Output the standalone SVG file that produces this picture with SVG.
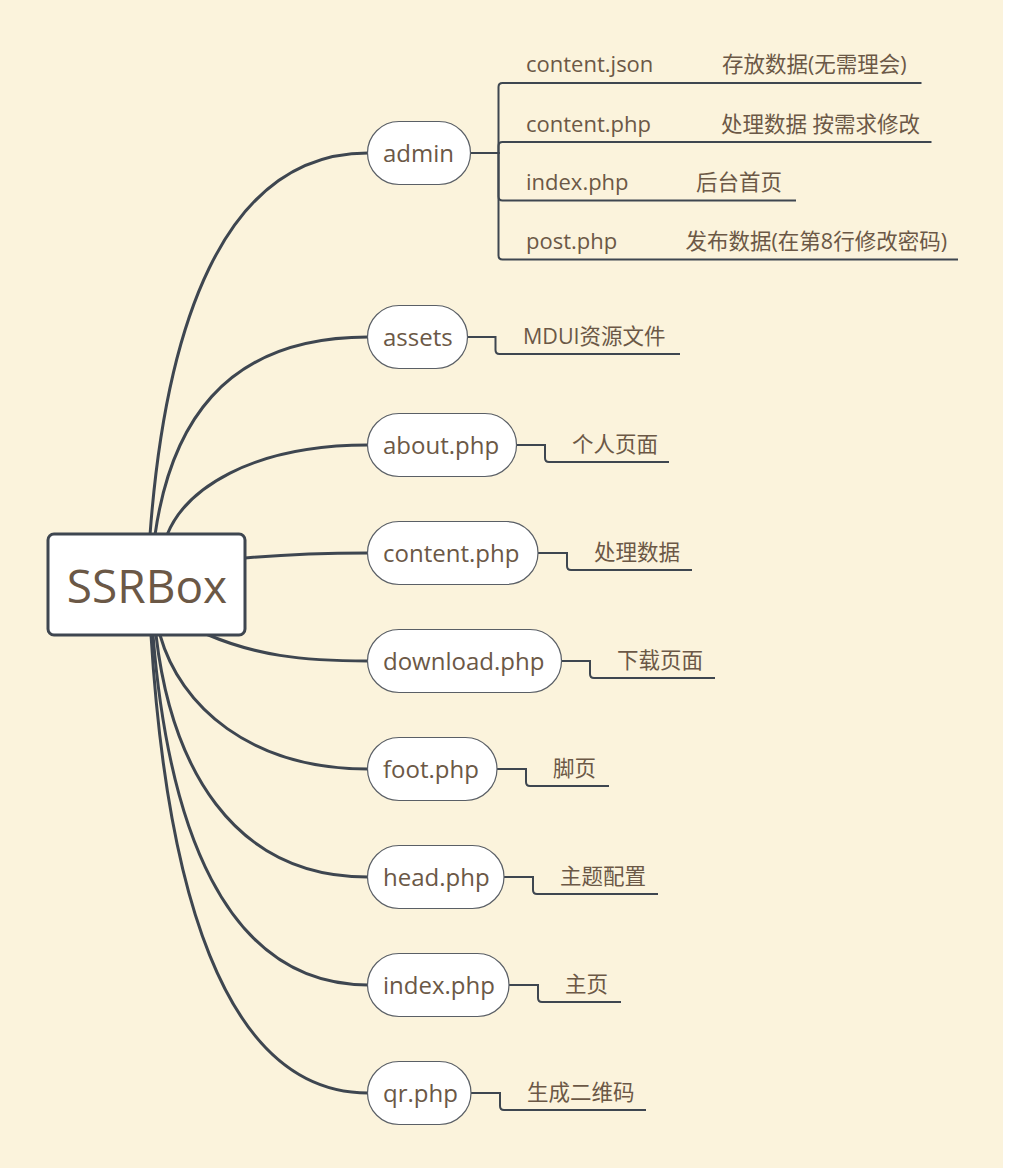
<svg xmlns="http://www.w3.org/2000/svg" width="1010" height="1176" viewBox="0 0 1010 1176">
<style>
.bg{fill:#FBF3DC}
.main{fill:none;stroke:#3E4650;stroke-width:3;stroke-linecap:round}
.sub{fill:none;stroke:#3E4650;stroke-width:2}
.pill{fill:#FFFFFF;stroke:#5A5F66;stroke-width:1.2}
.root{fill:#FFFFFF;stroke:#3E4650;stroke-width:3}
.t{fill:#6B5846;font-family:"Open Sans","Noto Sans CJK SC",sans-serif}
.tp{font-size:24px}
.tf{font-size:22px}
.td{font-size:21.5px}
.tr{font-size:46px;text-anchor:middle}
</style>
<rect x="0" y="0" width="1010" height="1176" fill="#FFFFFF"/>
<rect class="bg" x="0" y="0" width="1003" height="1168"/>
<g id="connectors">
  <path class="main" d="M150,535 C165,333 220,153 368,153"/>
  <path class="main" d="M155,535 C170,430 220,337 368,337"/>
  <path class="main" d="M167,535 C185,490 250,445 368,445"/>
  <path class="main" d="M245,558 C290,554 320,553 368,553"/>
  <path class="main" d="M206,634 C255,655 300,661 368,661"/>
  <path class="main" d="M160,635 C180,706 250,769 368,769"/>
  <path class="main" d="M156,635 C171,763 230,877 368,877"/>
  <path class="main" d="M153,635 C168,820 222,985 368,985"/>
  <path class="main" d="M151,635 C166,878 220,1093 368,1093"/>
  <path class="sub" d="M470.5,153 H498.5 V87 Q498.5,83 502.5,83 H667 H921.5"/>
  <path class="sub" d="M470.5,153 H498.5 V146 Q498.5,142 502.5,142 H667 H931.5"/>
  <path class="sub" d="M470.5,153 H498.5 V196.5 Q498.5,200.5 502.5,200.5 H643 H796"/>
  <path class="sub" d="M470.5,153 H498.5 V255.5 Q498.5,259.5 502.5,259.5 H632 H958"/>
  <path class="sub" d="M467.5,337 H495.5 V350 Q495.5,354 499.5,354 H680"/>
  <path class="sub" d="M516.5,445 H545 V458 Q545,462 549,462 H669"/>
  <path class="sub" d="M538,553 H567 V566 Q567,570 571,570 H692"/>
  <path class="sub" d="M561.5,661 H590 V674 Q590,678 594,678 H715"/>
  <path class="sub" d="M497,769 H526 V782 Q526,786 530,786 H609"/>
  <path class="sub" d="M504,877 H533 V890 Q533,894 537,894 H658"/>
  <path class="sub" d="M509,985 H538 V998 Q538,1002 542,1002 H621"/>
  <path class="sub" d="M471,1093 H500 V1106 Q500,1110 504,1110 H646"/>
</g>
<g id="root">
  <rect class="root" x="48" y="534" width="197" height="101" rx="6"/>
  <text class="t tr" x="147" y="603">SSRBox</text>
</g>
<g id="admin">
  <rect class="pill" x="367.5" y="121.5" width="103" height="63" rx="31.5"/>
  <text class="t tp" x="383" y="162">admin</text>
</g>
<g id="admin-content-json">
  <text class="t tf" x="526" y="72">content.json</text>
  <text class="t td" x="722" y="72">存放数据(无需理会)</text>
</g>
<g id="admin-content-php">
  <text class="t tf" x="526" y="131.5">content.php</text>
  <text class="t td" x="721" y="131.5">处理数据 按需求修改</text>
</g>
<g id="admin-index-php">
  <text class="t tf" x="526" y="190">index.php</text>
  <text class="t td" x="696" y="190">后台首页</text>
</g>
<g id="admin-post-php">
  <text class="t tf" x="526" y="248.5">post.php</text>
  <text class="t td" x="685.5" y="248.5">发布数据(在第8行修改密码)</text>
</g>
<g id="assets">
  <rect class="pill" x="367.5" y="305.5" width="100" height="63" rx="31.5"/>
  <text class="t tp" x="383" y="346">assets</text>
  <text class="t td" x="523" y="343.5">MDUI资源文件</text>
</g>
<g id="about">
  <rect class="pill" x="367.5" y="413.5" width="149" height="63" rx="31.5"/>
  <text class="t tp" x="383" y="454">about.php</text>
  <text class="t td" x="572" y="451.5">个人页面</text>
</g>
<g id="content">
  <rect class="pill" x="367.5" y="521.5" width="170.5" height="63" rx="31.5"/>
  <text class="t tp" x="383" y="562">content.php</text>
  <text class="t td" x="594" y="559.5">处理数据</text>
</g>
<g id="download">
  <rect class="pill" x="367.5" y="629.5" width="194" height="63" rx="31.5"/>
  <text class="t tp" x="383" y="670">download.php</text>
  <text class="t td" x="617" y="667.5">下载页面</text>
</g>
<g id="foot">
  <rect class="pill" x="367.5" y="737.5" width="129.5" height="63" rx="31.5"/>
  <text class="t tp" x="383" y="778">foot.php</text>
  <text class="t td" x="553" y="775.5">脚页</text>
</g>
<g id="head">
  <rect class="pill" x="367.5" y="845.5" width="136.5" height="63" rx="31.5"/>
  <text class="t tp" x="383" y="886">head.php</text>
  <text class="t td" x="560" y="883.5">主题配置</text>
</g>
<g id="index">
  <rect class="pill" x="367.5" y="953.5" width="141.5" height="63" rx="31.5"/>
  <text class="t tp" x="383" y="994">index.php</text>
  <text class="t td" x="565" y="991.5">主页</text>
</g>
<g id="qr">
  <rect class="pill" x="367.5" y="1061.5" width="103.5" height="63" rx="31.5"/>
  <text class="t tp" x="383" y="1102">qr.php</text>
  <text class="t td" x="527" y="1099.5">生成二维码</text>
</g>
</svg>
